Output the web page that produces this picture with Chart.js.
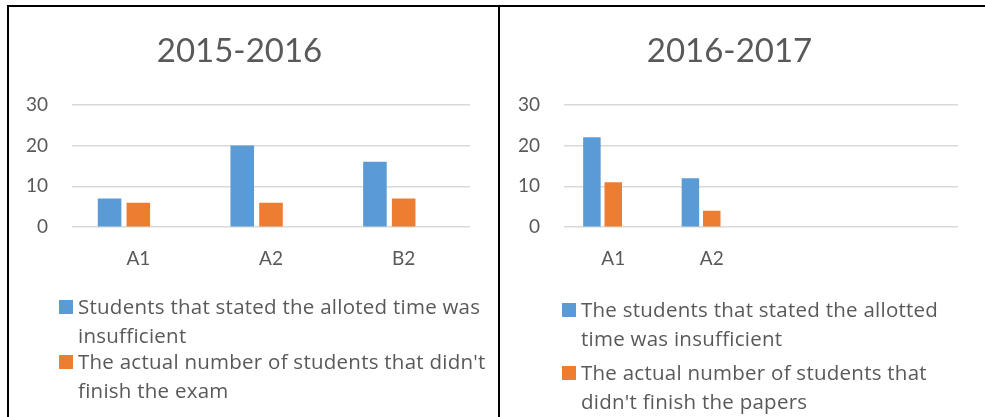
<!DOCTYPE html>
<html lang="en">
<head>
    <meta charset="UTF-8">
    <title>Time allotted vs unfinished exams</title>
    <script src="https://cdn.jsdelivr.net/npm/chart.js"></script>
    <style>
        * {
            margin: 0;
            padding: 0;
            box-sizing: border-box;
        }
        body {
            width: 985px;
            height: 417px;
            background: #fff;
            font-family: 'Open Sans', sans-serif;
            color: #595959;
            position: relative;
            overflow: hidden;
        }
        .frame {
            position: absolute;
            left: 7px;
            top: 5px;
            width: 978px;
            height: 412px;
            border-top: 2px solid #000;
            border-left: 2px solid #000;
        }
        .divider {
            position: absolute;
            left: 498px;
            top: 5px;
            width: 2px;
            height: 412px;
            background: #000;
        }
        .chart-box {
            position: absolute;
            top: 7px;
            height: 293px;
        }
        .legend {
            position: absolute;
            font-size: 20.5px;
            letter-spacing: 0.25px;
            line-height: 28.5px;
            white-space: nowrap;
        }
        .legend .item {
            display: flex;
            align-items: flex-start;
        }
        .legend .box {
            width: 14px;
            height: 14px;
            margin-top: 8px;
            margin-right: 5px;
            flex: none;
        }
    </style>
</head>
<body>
    <div class="frame"></div>
    <div class="divider"></div>

    <div class="chart-box" style="left: 9px; width: 490px;">
        <canvas id="chart1516"></canvas>
    </div>
    <div class="legend" id="legend1516" style="left: 59px; top: 292px;"></div>

    <div class="chart-box" style="left: 501px; width: 484px;">
        <canvas id="chart1617"></canvas>
    </div>
    <div class="legend" id="legend1617" style="left: 562px; top: 295px;"></div>

    <script>
        // 2015-2016
        const categories1516 = ['A1', 'A2', 'B2'];
        const insufficient1516 = [7, 20, 16];
        const unfinished1516 = [6, 6, 7];
        const legend1516 = [
            ['Students that stated the alloted time was', 'insufficient'],
            ["The actual number of students that didn't", 'finish the exam']
        ];

        // 2016-2017 (the last two categories are empty in the original)
        const categories1617 = ['A1', 'A2', '', ''];
        const insufficient1617 = [22, 12, null, null];
        const unfinished1617 = [11, 4, null, null];
        const legend1617 = [
            ['The students that stated the allotted', 'time was insufficient'],
            ["The actual number of students that", "didn't finish the papers"]
        ];

        const yTicks = [0, 10, 20, 30];
        const seriesColors = ['#5B9BD5', '#ED7D31'];
        const textColor = '#595959';

        function buildChart(canvasId, title, labels, seriesA, seriesB, padRight) {
            // third, empty series keeps the Excel-style cluster spacing
            const emptySeries = labels.map(() => null);
            return new Chart(document.getElementById(canvasId), {
                type: 'bar',
                data: {
                    labels: labels,
                    datasets: [
                        { data: seriesA, backgroundColor: seriesColors[0] },
                        { data: seriesB, backgroundColor: seriesColors[1] },
                        { data: emptySeries, backgroundColor: 'transparent' }
                    ]
                },
                options: {
                    responsive: true,
                    maintainAspectRatio: false,
                    animation: false,
                    layout: {
                        padding: { top: 0, right: padRight, bottom: 10, left: 0 }
                    },
                    datasets: {
                        bar: {
                            categoryPercentage: 0.65,
                            barPercentage: 0.82,
                            borderWidth: 0
                        }
                    },
                    plugins: {
                        legend: { display: false },
                        tooltip: { enabled: false },
                        title: {
                            display: true,
                            text: title,
                            color: textColor,
                            font: { family: 'Lato', size: 33, weight: 'normal' },
                            padding: { top: 25, bottom: 33 }
                        }
                    },
                    scales: {
                        x: {
                            grid: { display: false, drawTicks: false },
                            border: { display: false },
                            ticks: {
                                color: textColor,
                                font: { family: 'Lato', size: 19 },
                                padding: 20
                            }
                        },
                        y: {
                            min: yTicks[0],
                            max: yTicks[yTicks.length - 1],
                            afterFit: (scale) => { scale.width = 63; },
                            afterBuildTicks: (scale) => {
                                scale.ticks = yTicks.map(v => ({ value: v }));
                            },
                            grid: { color: '#D9D9D9', lineWidth: 1.5, drawTicks: false },
                            border: { display: false },
                            ticks: {
                                color: textColor,
                                font: { family: 'Lato', size: 19 },
                                padding: 24
                            }
                        }
                    }
                }
            });
        }

        function buildLegend(id, lines, gap) {
            const el = document.getElementById(id);
            lines.forEach((text, i) => {
                const item = document.createElement('div');
                item.className = 'item';
                if (i > 0) item.style.marginTop = gap + 'px';
                item.innerHTML = `
                    <span class="box" style="background:${seriesColors[i]}"></span>
                    <span>${text.join('<br>')}</span>
                `;
                el.appendChild(item);
            });
        }

        buildChart('chart1516', '2015-2016', categories1516, insufficient1516, unfinished1516, 29);
        buildChart('chart1617', '2016-2017', categories1617, insufficient1617, unfinished1617, 27);
        buildLegend('legend1516', legend1516, -2);
        buildLegend('legend1617', legend1617, 6);
    </script>
</body>
</html>
